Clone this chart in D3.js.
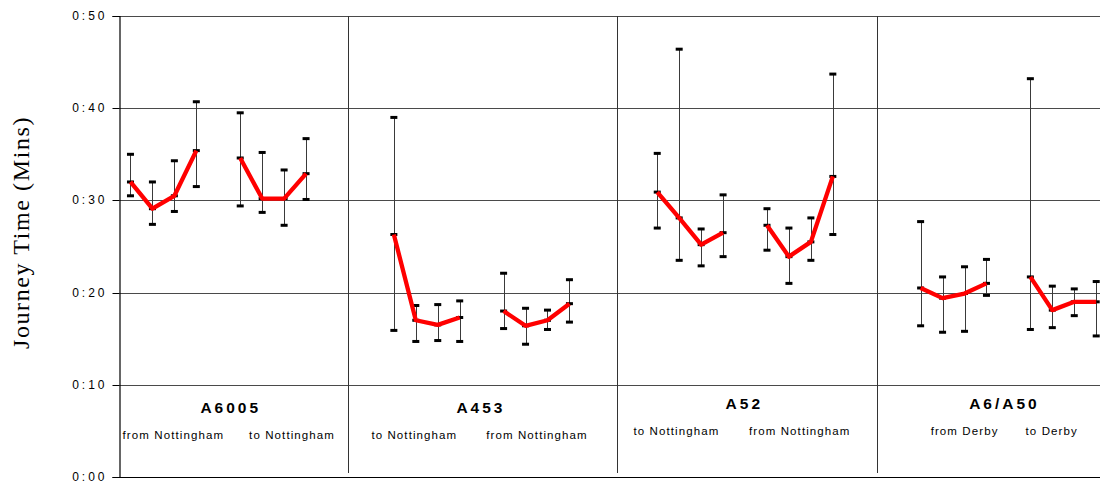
<!DOCTYPE html>
<html>
<head>
<meta charset="utf-8">
<script src="https://cdn.jsdelivr.net/npm/d3@7"></script>
<style>
  html, body { margin: 0; padding: 0; background: #fff; }
  svg { display: block; }
</style>
</head>
<body>
<svg id="chart" width="1100" height="483"></svg>
<script>
// ---------------- DATA ----------------
const routes = ["A6005", "A453", "A52", "A6/A50"];
const directions = [
  ["from Nottingham", "to Nottingham"],
  ["to Nottingham", "from Nottingham"],
  ["to Nottingham", "from Nottingham"],
  ["from Derby", "to Derby"]
];
const periodsPerDirection = 4;
// journey time in minutes: route x direction x period (flattened)
const meanTimes = [
  32.0, 29.1, 30.5, 35.4,   34.6, 30.2, 30.2, 32.9,
  26.3, 17.0, 16.5, 17.3,   18.0, 16.4, 17.0, 18.8,
  30.9, 28.1, 25.2, 26.5,   27.3, 23.9, 25.5, 32.6,
  20.5, 19.4, 19.9, 21.0,   21.7, 18.1, 19.0, 19.0
];
const upperTimes = [
  35.0, 32.0, 34.3, 40.7,   39.5, 35.2, 33.3, 36.7,
  39.0, 18.6, 18.7, 19.1,   22.1, 18.3, 18.1, 21.4,
  35.1, 46.4, 26.9, 30.6,   29.1, 27.0, 28.1, 43.7,
  27.7, 21.7, 22.8, 23.6,   43.2, 20.7, 20.4, 21.2
];
const lowerTimes = [
  30.5, 27.4, 28.8, 31.5,   29.4, 28.7, 27.3, 30.1,
  15.9, 14.7, 14.8, 14.7,   16.1, 14.4, 16.0, 16.8,
  27.0, 23.5, 22.9, 23.9,   24.6, 21.0, 23.5, 26.3,
  16.4, 15.7, 15.8, 19.7,   16.0, 16.2, 17.5, 15.3
];
const yTicks = [0, 10, 20, 30, 40, 50];
const yTickLabels = ["0:00", "0:10", "0:20", "0:30", "0:40", "0:50"];
const yTitle = "Journey Time (Mins)";
// panel boundaries and label centres on the category (slot) axis
const panelEdges = [9.93, 22.15, 34.0];
const titleSlots = [4.5, 15.9, 27.9, 39.75];
const subtitleSlots = [[1.93, 7.34], [12.91, 18.5], [24.85, 30.47], [37.98, 41.95]];

// ---------------- LAYOUT ----------------
const svg = d3.select("#chart");
const mLeft = 119.5, mRight = 1100, mTop = 16, mBottom = 477;

// slot index: route*12 + direction*5 + period (one empty slot between directions, three between routes)
const slotOf = (r, d, p) => r * 12 + d * 5 + p;

const x = d3.scaleLinear().domain([-0.5, 44.2]).range([mLeft, mRight + 0.6]);
const y = d3.scaleLinear().domain([0, 50]).range([mBottom, mTop]);

const records = [];
routes.forEach((route, r) => {
  directions[r].forEach((dir, d) => {
    for (let p = 0; p < periodsPerDirection; p++) {
      const i = (r * 2 + d) * periodsPerDirection + p;
      records.push({route, dir, r, d, p, slot: slotOf(r, d, p),
        mean: meanTimes[i], hi: upperTimes[i], lo: lowerTimes[i]});
    }
  });
});

const crisp = v => Math.round(v) + 0.5;

// gridlines
svg.append("g").selectAll("line")
  .data(yTicks.filter(t => t > 0))
  .join("line")
  .attr("x1", mLeft).attr("x2", mRight)
  .attr("y1", d => crisp(y(d))).attr("y2", d => crisp(y(d)))
  .attr("stroke", "#4a4a4a").attr("stroke-width", 1);

// panel dividers
svg.append("g").selectAll("line")
  .data(panelEdges)
  .join("line")
  .attr("x1", d => crisp(x(d))).attr("x2", d => crisp(x(d)))
  .attr("y1", y(50)).attr("y2", y(0) - 4)
  .attr("stroke", "#333").attr("stroke-width", 1);

// y axis
const yAxis = d3.axisLeft(y)
  .tickValues(yTicks)
  .tickFormat((d, i) => yTickLabels[i])
  .tickSize(7)
  .tickPadding(5);
const gy = svg.append("g").attr("transform", `translate(${mLeft},0)`).call(yAxis);
gy.select(".domain").attr("stroke", "#000").attr("stroke-width", 1.2);
gy.selectAll(".tick line").attr("stroke", "#000");
gy.selectAll(".tick text")
  .attr("font-family", "'Liberation Sans', Arial, sans-serif")
  .attr("font-size", 12)
  .attr("letter-spacing", 3)
  .attr("fill", "#000");
gy.selectAll(".tick").attr("transform", d => `translate(0,${crisp(y(d))})`);

// bottom axis line
svg.append("line")
  .attr("x1", mLeft).attr("x2", mRight)
  .attr("y1", crisp(y(0))).attr("y2", crisp(y(0)))
  .attr("stroke", "#000").attr("stroke-width", 1.2);

// y title
svg.append("text")
  .attr("transform", `translate(29,${(mTop + mBottom) / 2 - 14}) rotate(-90)`)
  .attr("text-anchor", "middle")
  .attr("font-family", "'Liberation Serif', 'Times New Roman', serif")
  .attr("font-size", 24)
  .attr("letter-spacing", 1.6)
  .text(yTitle);

// error bars
const eb = svg.append("g");
eb.selectAll("line.whisker")
  .data(records)
  .join("line")
  .attr("class", "whisker")
  .attr("x1", d => crisp(x(d.slot))).attr("x2", d => crisp(x(d.slot)))
  .attr("y1", d => y(d.hi)).attr("y2", d => y(d.lo))
  .attr("stroke", "#3a3a3a").attr("stroke-width", 1);
const caps = records.flatMap(d => [{slot: d.slot, v: d.hi}, {slot: d.slot, v: d.lo}, {slot: d.slot, v: d.mean}]);
eb.selectAll("rect.cap")
  .data(caps)
  .join("rect")
  .attr("class", "cap")
  .attr("x", d => x(d.slot) - 3.5)
  .attr("y", d => y(d.v) - 1.5)
  .attr("width", 7).attr("height", 3)
  .attr("fill", "#000");

// mean lines (one per route/direction)
const line = d3.line().x(d => x(d.slot)).y(d => y(d.mean));
const groups = d3.groups(records, d => d.r * 2 + d.d);
svg.append("g").selectAll("path")
  .data(groups)
  .join("path")
  .attr("d", g => line(g[1]))
  .attr("fill", "none")
  .attr("stroke", "#ff0000")
  .attr("stroke-width", 4.3)
  .attr("stroke-linejoin", "round");

// panel labels
const labelShift = [0, 0, -4, -4];
const lab = svg.append("g").attr("font-family", "'Liberation Sans', Arial, sans-serif").attr("fill", "#000");
lab.selectAll("text.title")
  .data(routes)
  .join("text")
  .attr("class", "title")
  .attr("x", (d, i) => x(titleSlots[i]) + 1.5)
  .attr("y", (d, i) => 412.5 + labelShift[i])
  .attr("text-anchor", "middle")
  .attr("font-weight", "bold")
  .attr("font-size", 15.5)
  .attr("letter-spacing", 3)
  .text(d => d);
const subs = directions.flatMap((pair, r) => pair.map((t, d) => ({t, r, d})));
lab.selectAll("text.sub")
  .data(subs)
  .join("text")
  .attr("class", "sub")
  .attr("x", d => x(subtitleSlots[d.r][d.d]) + 0.5)
  .attr("y", d => 439.3 + labelShift[d.r])
  .attr("text-anchor", "middle")
  .attr("font-size", 11.5)
  .attr("letter-spacing", 1.1)
  .text(d => d.t);
</script>
</body>
</html>
